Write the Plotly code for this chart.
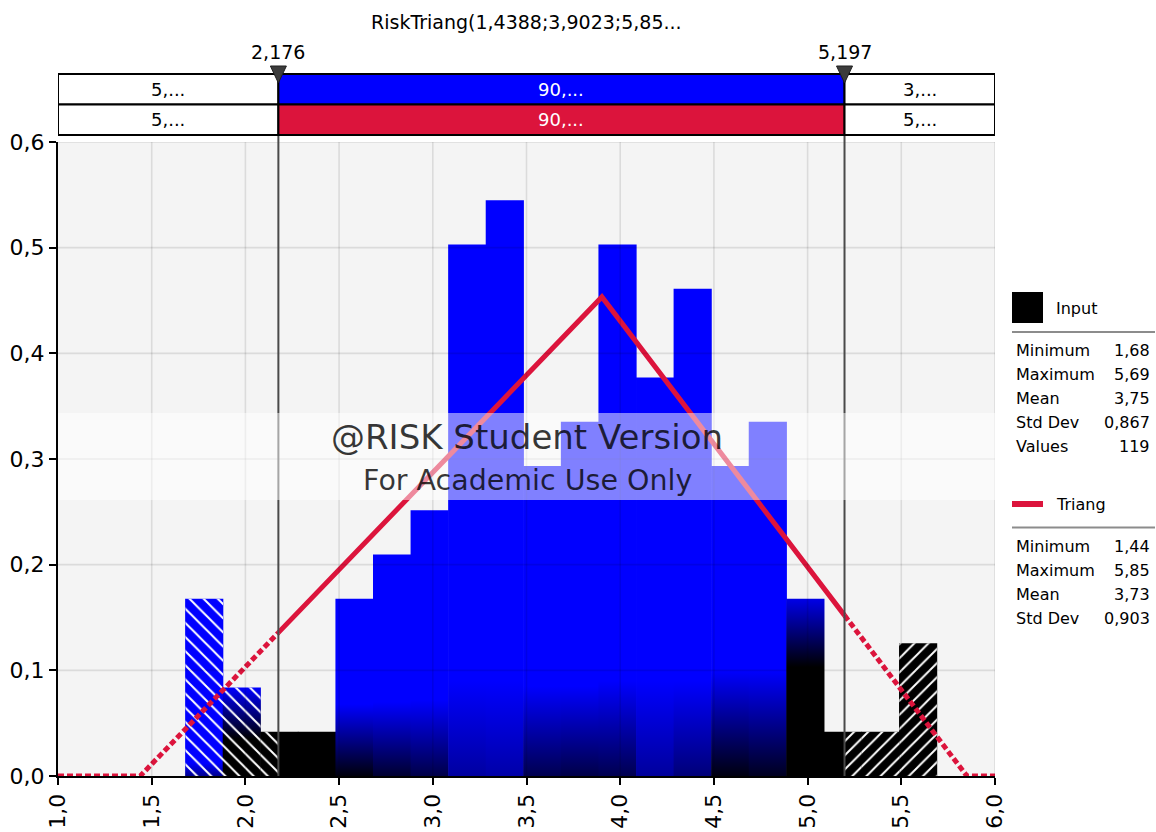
import numpy as np
import plotly.graph_objects as go

# ---- data -------------------------------------------------------------
# Histogram of the input sample (equal-width bins between sample min and max)
hist_lo, hist_hi = 1.68, 5.69
bin_counts = [4, 2, 1, 1, 4, 5, 6, 12, 13, 7, 8, 12, 9, 11, 7, 8, 4, 1, 1, 3]

# Fitted triangular distribution RiskTriang(min; mode; max)
tri_min, tri_mode, tri_max = 1.4388, 3.9023, 5.85

# Delimiter sliders and the percentages shown in the bars above the chart
delimiters = [2.176, 5.197]
delim_labels = ["2,176", "5,197"]
input_pct = ["5,...", "90,...", "3,..."]
fit_pct = ["5,...", "90,...", "5,..."]

# Summary statistics panels
input_stats = [("Minimum", "1,68"), ("Maximum", "5,69"), ("Mean", "3,75"),
               ("Std Dev", "0,867"), ("Values", "119")]
fit_stats = [("Minimum", "1,44"), ("Maximum", "5,85"), ("Mean", "3,73"),
             ("Std Dev", "0,903")]

x_ticks = [1.0, 1.5, 2.0, 2.5, 3.0, 3.5, 4.0, 4.5, 5.0, 5.5, 6.0]
y_ticks = [0.0, 0.1, 0.2, 0.3, 0.4, 0.5, 0.6]

subtitle = "RiskTriang(1,4388;3,9023;5,85..."

# ---- styling ----------------------------------------------------------
FONT = "DejaVu Sans"
BLUE = "#0000FF"
RED = "#DC143C"
BLACK = "#000000"

# per-bin shading: (top colour, bottom colour, gradient low, gradient high)
bin_shade = [
    (BLUE, "#000090", 0.0, 0.012),
    (BLUE, BLACK, 0.035, 0.084),
    (BLACK, BLACK, 0.0, 0.1),
    (BLACK, BLACK, 0.0, 0.1),
    (BLUE, "#00000C", 0.0, 0.068),
    (BLUE, "#000030", 0.0, 0.07),
    (BLUE, "#000048", 0.0, 0.072),
    (BLUE, "#0000A0", 0.0, 0.09),
    (BLUE, "#0000A8", 0.0, 0.09),
    (BLUE, "#000050", 0.0, 0.085),
    (BLUE, "#000048", 0.0, 0.085),
    (BLUE, "#000050", 0.0, 0.09),
    (BLUE, "#00009C", 0.0, 0.09),
    (BLUE, "#000078", 0.0, 0.09),
    (BLUE, "#000010", 0.0, 0.10),
    (BLUE, "#000020", 0.0, 0.10),
    ("#0000E8", BLACK, 0.103, 0.168),
    (BLACK, BLACK, 0.0, 0.1),
    (BLACK, BLACK, 0.0, 0.1),
    (BLACK, BLACK, 0.0, 0.1),
]

W, H = 1156, 832
ML, MR, MT, MB = 58, 161, 142, 56
PW, PH = W - ML - MR, H - MT - MB
X_PER_PX = (x_ticks[-1] - x_ticks[0]) / PW


def px_x(px):
    return (px - ML) / PW


def px_y(py):
    return (H - MB - py) / PH


def triang_pdf(x):
    a, c, b = tri_min, tri_mode, tri_max
    if x <= a or x >= b:
        return 0.0
    if x <= c:
        return 2 * (x - a) / ((b - a) * (c - a))
    return 2 * (b - x) / ((b - a) * (b - c))


# ---- derived histogram -------------------------------------------------
n_values = sum(bin_counts)
edges = np.linspace(hist_lo, hist_hi, len(bin_counts) + 1)
widths = np.diff(edges)
density = np.array(bin_counts) / (n_values * widths)

fig = go.Figure()


def rect_xy(x0, x1, h):
    return [x0, x1, x1, x0, x0], [0, 0, h, h, 0]


# histogram bars as shaded polygons (a hair of overlap hides seams)
seam = 0.3 * X_PER_PX
for i, h in enumerate(density):
    top, bottom, lo, hi = bin_shade[i]
    xs, ys = rect_xy(edges[i] - seam, edges[i + 1] + seam, h)
    kw = dict(x=xs, y=ys, mode="lines", line=dict(width=0), fill="toself",
              fillcolor=top, hoverinfo="skip", showlegend=False)
    if top != bottom:
        kw["fillgradient"] = dict(type="vertical",
                                  colorscale=[[0, bottom], [1, top]],
                                  start=lo, stop=hi)
    fig.add_trace(go.Scatter(**kw))

# hatching on the parts of the bars outside the delimiters
for i, h in enumerate(density):
    x0, x1 = edges[i], edges[i + 1]
    for a, b, shape in ((x0, min(x1, delimiters[0]), "\\"),
                        (max(x0, delimiters[1]), x1, "/")):
        if b <= a:
            continue
        xs, ys = rect_xy(a, b, h)
        fig.add_trace(go.Scatter(
            x=xs, y=ys, mode="lines", line=dict(width=0), fill="toself",
            fillcolor="rgba(0,0,0,0)", hoverinfo="skip", showlegend=False,
            fillpattern=dict(shape=shape, fgcolor="white",
                             bgcolor="rgba(0,0,0,0)", size=10,
                             solidity=0.2, fillmode="replace")))

# fitted triangular density: dotted outside the delimiters, solid inside
xl = [x_ticks[0], tri_min, delimiters[0]]
xm = [delimiters[0], tri_mode, delimiters[1]]
xr = [delimiters[1], tri_max, x_ticks[-1]]
for xs, dash in ((xl, "6px,3px"), (xr, "6px,3px"), (xm, "solid")):
    fig.add_trace(go.Scatter(
        x=xs, y=[triang_pdf(v) for v in xs], mode="lines",
        line=dict(color=RED, width=5, dash=dash), hoverinfo="skip",
        showlegend=False, cliponaxis=False))

shapes = []
# grid drawn over the bars
for xv in x_ticks[1:]:
    shapes.append(dict(type="line", xref="x", yref="y", x0=xv, x1=xv,
                       y0=y_ticks[0], y1=y_ticks[-1], layer="above",
                       line=dict(color="rgba(0,0,0,0.10)", width=1.6)))
for yv in y_ticks[1:]:
    shapes.append(dict(type="line", xref="x", yref="y", x0=x_ticks[0],
                       x1=x_ticks[-1], y0=yv, y1=yv, layer="above",
                       line=dict(color="rgba(0,0,0,0.10)", width=1.6)))

# delimiter lines
for d in delimiters:
    shapes.append(dict(type="line", xref="x", yref="paper", x0=d, x1=d,
                       y0=0, y1=px_y(74), layer="above",
                       line=dict(color="#4a4a4a", width=2)))

# watermark band
shapes.append(dict(type="rect", xref="paper", yref="paper", x0=0, x1=1,
                   y0=px_y(500), y1=px_y(413), layer="above",
                   fillcolor="rgba(255,255,255,0.5)", line=dict(width=0)))

# percentage bars above the plot
bounds = [x_ticks[0], delimiters[0], delimiters[1], x_ticks[-1]]
rows = [(input_pct, BLUE, px_y(74), px_y(104.5)),
        (fit_pct, RED, px_y(104.5), px_y(135))]
annotations = []
for texts, mid_color, y_top, y_bot in rows:
    for k in range(3):
        fill = mid_color if k == 1 else "white"
        shapes.append(dict(type="rect", xref="x", yref="paper",
                           x0=bounds[k], x1=bounds[k + 1], y0=y_bot, y1=y_top,
                           fillcolor=fill, layer="above",
                           line=dict(color=BLACK, width=2)))
        annotations.append(dict(
            x=(bounds[k] + bounds[k + 1]) / 2, y=(y_top + y_bot) / 2,
            xref="x", yref="paper", text=texts[k], showarrow=False,
            xanchor="center", yanchor="middle",
            font=dict(family=FONT, size=18,
                      color="white" if k == 1 else BLACK)))

# slider markers (drawn after the boxes so they sit on top)
half_w = 8 * X_PER_PX
for d in delimiters:
    shapes.append(dict(
        type="path", xref="x", yref="paper", layer="above",
        path=f"M {d - half_w},{px_y(66)} L {d + half_w},{px_y(66)} "
             f"L {d},{px_y(83)} Z",
        fillcolor="#3c3c3c", line=dict(color="#1e1e1e", width=1)))

for d, lab in zip(delimiters, delim_labels):
    annotations.append(dict(x=d, y=px_y(52), xref="x", yref="paper",
                            text=lab, showarrow=False,
                            xanchor="center", yanchor="middle",
                            font=dict(family=FONT, size=19, color=BLACK)))

annotations.append(dict(x=0.5, y=px_y(22), xref="paper", yref="paper",
                        text=subtitle, showarrow=False,
                        xanchor="center", yanchor="middle",
                        font=dict(family=FONT, size=19, color=BLACK)))

# watermark text
wm_color = "rgba(0,0,0,0.78)"
annotations.append(dict(x=px_x(527), y=px_y(437), xref="paper", yref="paper",
                        text="@RISK Student Version", showarrow=False,
                        xanchor="center", yanchor="middle",
                        font=dict(family=FONT, size=34, color=wm_color)))
annotations.append(dict(x=px_x(527), y=px_y(480), xref="paper", yref="paper",
                        text="For Academic Use Only", showarrow=False,
                        xanchor="center", yanchor="middle",
                        font=dict(family=FONT, size=28.5, color=wm_color)))

# statistics panels on the right
shapes.append(dict(type="rect", xref="paper", yref="paper",
                   x0=px_x(1012), x1=px_x(1043), y0=px_y(323), y1=px_y(292),
                   fillcolor=BLACK, line=dict(width=0)))
shapes.append(dict(type="line", xref="paper", yref="paper",
                   x0=px_x(1012), x1=px_x(1043), y0=px_y(504), y1=px_y(504),
                   line=dict(color=RED, width=6)))
for yy in (332, 527.5):
    shapes.append(dict(type="line", xref="paper", yref="paper",
                       x0=px_x(1012), x1=px_x(1155), y0=px_y(yy), y1=px_y(yy),
                       line=dict(color="#8c8c8c", width=2)))

lf = dict(family=FONT, size=16, color=BLACK)
for text, yy in (("Input", 308), ("Triang", 504)):
    annotations.append(dict(x=px_x(1054), y=px_y(yy), xref="paper",
                            yref="paper", text=text, showarrow=False,
                            xanchor="left", yanchor="middle", font=lf))
for stats, y0 in ((input_stats, 350.5), (fit_stats, 546.5)):
    for j, (name, val) in enumerate(stats):
        yy = px_y(y0 + 24 * j)
        annotations.append(dict(x=px_x(1014), y=yy, xref="paper", yref="paper",
                                text=name, showarrow=False, xanchor="left",
                                yanchor="middle", font=lf))
        annotations.append(dict(x=px_x(1152), y=yy, xref="paper", yref="paper",
                                text=val, showarrow=False, xanchor="right",
                                yanchor="middle", font=lf))

tick_font = dict(family=FONT, size=22, color=BLACK)
fig.update_layout(
    width=W, height=H,
    margin=dict(l=ML, r=MR, t=MT, b=MB, pad=0),
    paper_bgcolor="white", plot_bgcolor="#F4F4F4",
    separators=", ",
    showlegend=False,
    shapes=shapes, annotations=annotations,
    xaxis=dict(range=[x_ticks[0], x_ticks[-1]], tickvals=x_ticks,
               tickformat=".1f", tickangle=-90, ticks="outside", ticklen=7,
               tickwidth=1.5, tickcolor=BLACK, showgrid=False, zeroline=False,
               showline=True, linecolor=BLACK, linewidth=2, automargin=False,
               layer="below traces", tickfont=tick_font, fixedrange=True),
    yaxis=dict(range=[y_ticks[0], y_ticks[-1]], tickvals=y_ticks,
               tickformat=".1f", ticks="outside", ticklen=7, tickwidth=1.5,
               tickcolor=BLACK, showgrid=False, zeroline=False,
               showline=True, linecolor=BLACK, linewidth=2, automargin=False,
               layer="below traces", tickfont=tick_font, fixedrange=True),
)

fig.write_html("out.html")
